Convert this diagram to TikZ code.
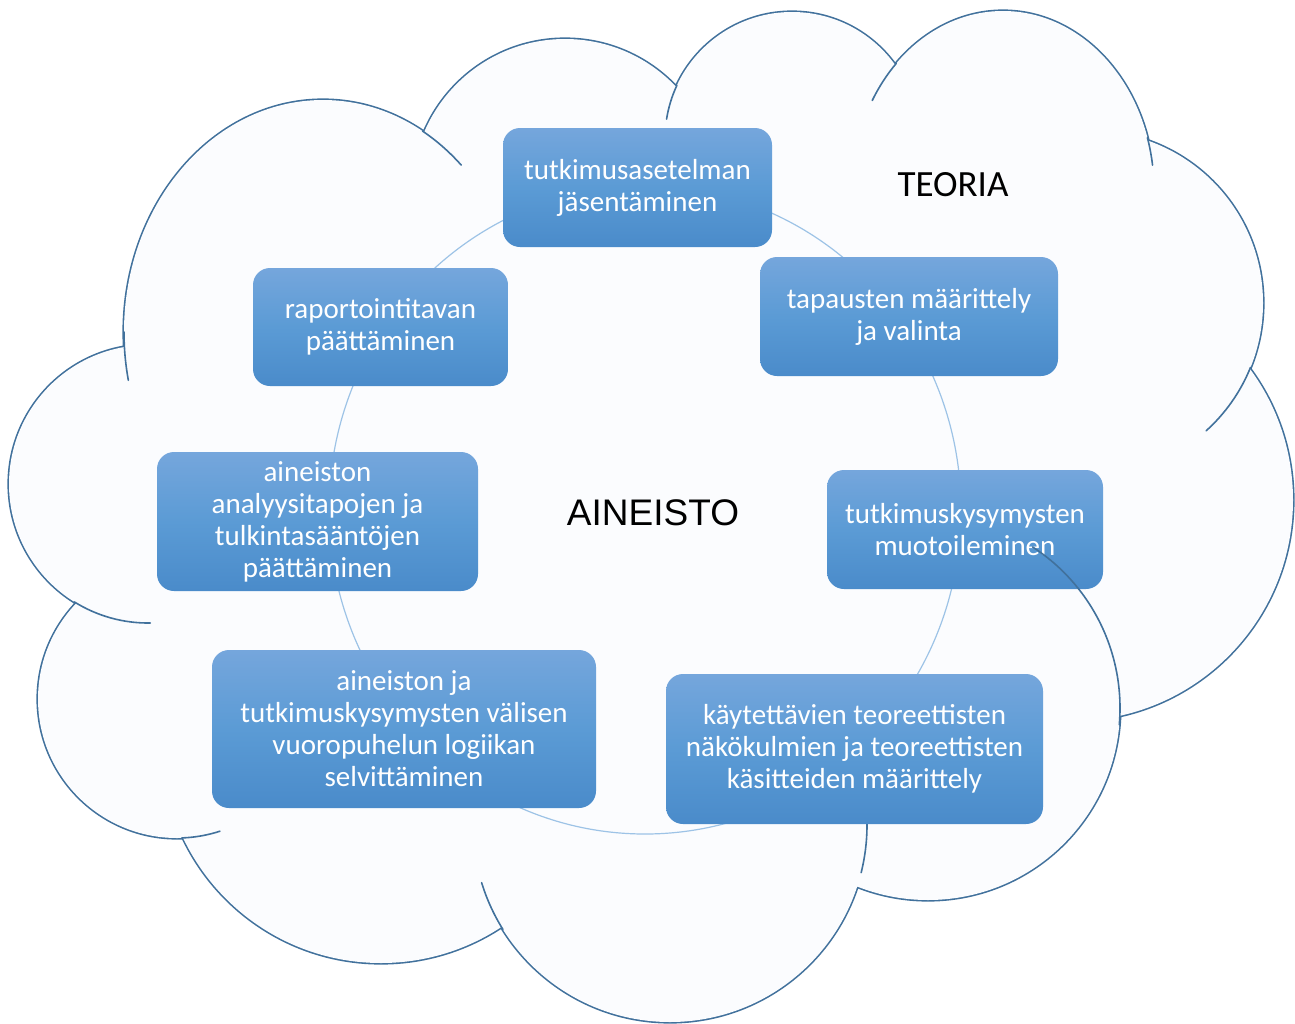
\documentclass[tikz,border=0pt]{standalone}
\usepackage{fontspec}
\setmainfont{Carlito}
\newfontfamily\arialfont{Liberation Sans}
\usetikzlibrary{positioning}
\definecolor{puffline}{RGB}{65,113,156}
\definecolor{puffbg}{RGB}{251,252,254}
\definecolor{ringline}{RGB}{157,195,230}
\definecolor{tasktop}{RGB}{117,166,220}
\definecolor{taskmid}{RGB}{91,155,213}
\definecolor{taskbot}{RGB}{74,139,202}

\begin{document}
\begin{tikzpicture}[x=1pt, y=-1pt,
  task/.style={rounded corners=17pt, top color=tasktop, bottom color=taskbot, middle color=taskmid,
    text=white, align=center, inner sep=0pt, font=\fontsize{29}{32}\selectfont},
  puff/.style={draw=puffline, line width=1.6pt, line cap=round},
  rim/.style={draw=puffline, line width=3.2pt},
  ring/.style={draw=ringline, line width=1.2pt},
  lab/.style={text=black, font=\fontsize{37}{40}\selectfont}
]
\fill[white] (0,0) rectangle (1295,1023);
\useasboundingbox (0,0) rectangle (1295,1023);

% cloud (TEORIA): stroke every puff, then cover the inner parts
\path[rim]
  (323,332) ellipse[x radius=199, y radius=232]
  (565,192) circle[radius=153]
  (792,139) circle[radius=127]
  (1003,190) ellipse[x radius=151, y radius=179]
  (1091,303) circle[radius=172]
  (1072,500) circle[radius=221]
  (928,708) circle[radius=192]
  (670,825) circle[radius=197]
  (381,744) circle[radius=219]
  (177,699) circle[radius=139]
  (148,484) circle[radius=139];
\fill[puffbg]
  (323,332) ellipse[x radius=199, y radius=232]
  (565,192) circle[radius=153]
  (792,139) circle[radius=127]
  (1003,190) ellipse[x radius=151, y radius=179]
  (1091,303) circle[radius=172]
  (1072,500) circle[radius=221]
  (928,708) circle[radius=192]
  (670,825) circle[radius=197]
  (381,744) circle[radius=219]
  (177,699) circle[radius=139]
  (148,484) circle[radius=139];
\fill[puffbg] (323,332) -- (565,192) -- (792,139) -- (1003,190) -- (1091,303) -- (1072,500)
  -- (928,708) -- (670,825) -- (381,744) -- (177,699) -- (148,484) -- cycle;

% inner ends of the puffs
\draw[puff] (323,332) ++(180:199 and 232) arc[start angle=180, end angle=168, x radius=199, y radius=232];
\draw[puff] (323,332) ++(300:199 and 232) arc[start angle=300, end angle=314, x radius=199, y radius=232];
\draw[puff] (792,139) ++(205:127) arc[start angle=205, end angle=189, radius=127];
\draw[puff] (1003,190) ++(225:151 and 179) arc[start angle=225, end angle=210, x radius=151, y radius=179];
\draw[puff] (1003,190) ++(343:151 and 179) arc[start angle=343, end angle=352, x radius=151, y radius=179];
\draw[puff] (1091,303) ++(22:172) arc[start angle=22, end angle=48, radius=172];
\draw[puff] (670,825) ++(14:197) arc[start angle=14, end angle=-1, radius=197];
\draw[puff] (670,825) ++(148:197) arc[start angle=148, end angle=163, radius=197];
\draw[puff] (177,699) ++(88:139) arc[start angle=88, end angle=72, radius=139];
\draw[puff] (148,484) ++(122:139) arc[start angle=122, end angle=89, radius=139];

% ring behind the steps
\coordinate (mid) at (645,510);
\draw[ring] (mid) ellipse[x radius=316, y radius=324];

\node[task, minimum width=269pt, minimum height=119pt] (jasen) at (637.5,187.5) {tutkimusasetelman\\jäsentäminen};
\node[task, minimum width=298pt, minimum height=119pt] (tapaus) at (909,316.5) {tapausten määrittely\\ja valinta};
\node[task, minimum width=276pt, minimum height=119pt] (kysym) at (965,529.5) {tutkimuskysymysten\\muotoileminen};
\node[task, minimum width=377pt, minimum height=150pt] (kasit) at (854.5,749) {käytettävien teoreettisten\\näkökulmien ja teoreettisten\\käsitteiden määrittely};
\node[task, minimum width=384pt, minimum height=158pt] (vuoro) at (404,729) {aineiston ja\\tutkimuskysymysten välisen\\vuoropuhelun logiikan\\selvittäminen};
\node[task, minimum width=321pt, minimum height=139pt] (analyysi) at (317.5,521.5) {aineiston\\analyysitapojen ja\\tulkintasääntöjen\\päättäminen};
\node[task, minimum width=255pt, minimum height=118pt] (raportti) at (380.5,327) {raportointitavan\\päättäminen};

% puff that runs over a step
\draw[puff] (928,708) ++(5:192) arc[start angle=5, end angle=-57, radius=192];

\node[lab] (teoria) at (953,185) {TEORIA};
\node[lab, font=\arialfont\fontsize{37}{40}\selectfont] (aineisto) at (653,513) {AINEISTO};
\end{tikzpicture}
\end{document}
